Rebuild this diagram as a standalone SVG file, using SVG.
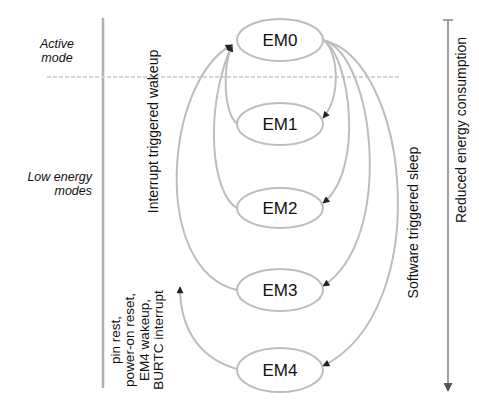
<svg xmlns="http://www.w3.org/2000/svg" width="479" height="414" viewBox="0 0 479 414">
<style>
.t{font-family:"Liberation Sans",Arial,sans-serif;fill:#111}
.lab{font-size:12.5px;font-style:italic}
.em{font-size:17px;text-anchor:middle}
.rot{font-size:14px;text-anchor:middle}
.node{fill:#fff;stroke:#bdbdbd;stroke-width:2}
.c{fill:none;stroke:#bdbdbd;stroke-width:2}
</style>
<defs>
<marker id="ah" viewBox="0 0 10 10" refX="9" refY="5" markerWidth="9" markerHeight="7" markerUnits="userSpaceOnUse" orient="auto">
<path d="M0,0 L10,5 L0,10 z" fill="#222"/>
</marker>
<marker id="ah2" viewBox="0 0 10 10" refX="9" refY="5" markerWidth="10" markerHeight="9" markerUnits="userSpaceOnUse" orient="auto">
<path d="M0,0 L10,5 L0,10 z" fill="#555"/>
</marker>
</defs>
<g id="axes">
<line x1="103" y1="18" x2="103" y2="388" stroke="#b0b0b0" stroke-width="2.5"/>
<line x1="47" y1="77" x2="400" y2="77" stroke="#d4d4d4" stroke-width="2" stroke-dasharray="4 2"/>
<line x1="448" y1="20" x2="448" y2="391" stroke="#a0a0a0" stroke-width="2" marker-end="url(#ah2)"/>
<line x1="443" y1="20" x2="453" y2="20" stroke="#a0a0a0" stroke-width="2"/>
</g>
<g id="labels">
<text class="t lab" x="57" y="48" text-anchor="middle">Active</text>
<text class="t lab" x="57" y="62" text-anchor="middle">mode</text>
<text class="t lab" x="92" y="181" text-anchor="end">Low energy</text>
<text class="t lab" x="92" y="195" text-anchor="end">modes</text>
<text class="t rot" transform="translate(158,131.5) rotate(-90)">Interrupt triggered wakeup</text>
<text class="t rot" transform="translate(418,222.5) rotate(-90)">Software triggered sleep</text>
<text class="t rot" transform="translate(466,130) rotate(-90)">Reduced energy consumption</text>
<g class="t" font-size="13.5" text-anchor="middle">
<text transform="translate(119.5,340) rotate(-90)">pin rest,</text>
<text transform="translate(134,340) rotate(-90)">power-on reset,</text>
<text transform="translate(148.5,340) rotate(-90)">EM4 wakeup,</text>
<text transform="translate(163,340) rotate(-90)">BURTC interrupt</text>
</g>
</g>
<g id="connectors">
<path class="c" d="M237,124 C224,112 222,70 232,45" marker-end="url(#ah)"/>
<path class="c" d="M237,208 C212,195 203,110 232,45" marker-end="url(#ah)"/>
<path class="c" d="M237,290 C150,270 165,80 232,45" marker-end="url(#ah)"/>
<path class="c" d="M237,369 C205,360 180,335 180,287" marker-end="url(#ah)"/>
<path class="c" d="M323,40 C338,50 342,95 323,118" marker-end="url(#ah)"/>
<path class="c" d="M323,40 C350,55 365,170 323,203" marker-end="url(#ah)"/>
<path class="c" d="M323,40 C375,55 395,240 323,286" marker-end="url(#ah)"/>
<path class="c" d="M323,40 C410,60 435,310 323,366" marker-end="url(#ah)"/>
</g>
<g id="EM0"><ellipse class="node" cx="280" cy="40" rx="43" ry="21"/><text class="t em" x="280" y="46">EM0</text></g>
<g id="EM1"><ellipse class="node" cx="280" cy="124" rx="43" ry="21"/><text class="t em" x="280" y="130">EM1</text></g>
<g id="EM2"><ellipse class="node" cx="280" cy="208" rx="43" ry="20"/><text class="t em" x="280" y="214">EM2</text></g>
<g id="EM3"><ellipse class="node" cx="280" cy="290" rx="43" ry="21"/><text class="t em" x="280" y="296">EM3</text></g>
<g id="EM4"><ellipse class="node" cx="280" cy="370" rx="43" ry="22"/><text class="t em" x="280" y="376">EM4</text></g>
</svg>
